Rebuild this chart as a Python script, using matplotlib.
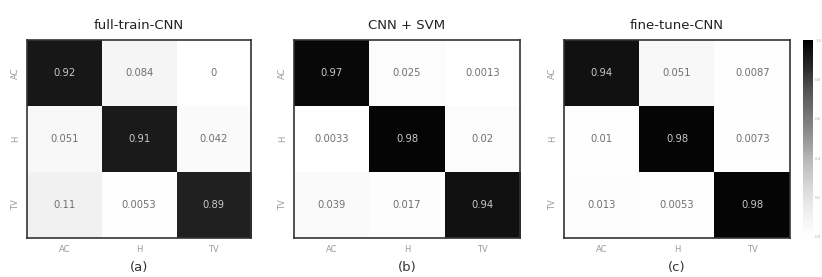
import numpy as np
import matplotlib
matplotlib.use("Agg")
import matplotlib.pyplot as plt

classes = ["AC", "H", "TV"]
titles = ["full-train-CNN", "CNN + SVM", "fine-tune-CNN"]
captions = ["(a)", "(b)", "(c)"]

cm_full_train = [[0.92, 0.084, 0],
                 [0.051, 0.91, 0.042],
                 [0.11, 0.0053, 0.89]]
cm_cnn_svm = [[0.97, 0.025, 0.0013],
              [0.0033, 0.98, 0.02],
              [0.039, 0.017, 0.94]]
cm_fine_tune = [[0.94, 0.051, 0.0087],
                [0.01, 0.98, 0.0073],
                [0.013, 0.0053, 0.98]]
matrices = [cm_full_train, cm_cnn_svm, cm_fine_tune]
cbar_ticks = [0.0, 0.2, 0.4, 0.6, 0.8, 1.0]

W, H = 822, 277
fig = plt.figure(figsize=(W / 100, H / 100), dpi=100)
fig.patch.set_facecolor("white")

# panel boxes in pixels: left, top, right, bottom
boxes = [(27, 40, 251, 238), (294, 40, 520, 238), (564, 40, 790, 238)]

im = None
for cm, title, cap, (x0, y0, x1, y1) in zip(matrices, titles, captions, boxes):
    ax = fig.add_axes([x0 / W, 1 - y1 / H, (x1 - x0) / W, (y1 - y0) / H])
    data = np.array(cm)
    im = ax.imshow(data, cmap="Greys", vmin=0, vmax=1, aspect="auto", interpolation="nearest")
    for i in range(3):
        for j in range(3):
            v = data[i, j]
            ax.text(j, i, f"{v:g}", ha="center", va="center", fontsize=7.2,
                    color="#c8c8c8" if v > 0.5 else "#707070")
    ax.set_xticks(range(3))
    ax.set_yticks(range(3))
    ax.set_xticklabels(classes, fontsize=6, color="#9a9a9a")
    ax.set_yticklabels(classes, fontsize=6, color="#9a9a9a", rotation=90, va="center")
    ax.tick_params(length=0, pad=5)
    for s in ax.spines.values():
        s.set_color("#333333")
        s.set_linewidth(1.2)
    ax.set_title(title, fontsize=9.5, color="#222222", pad=8)
    fig.text((x0 + x1) / 2 / W, 1 - 268 / H, cap, ha="center", va="center",
             fontsize=9.5, color="#333333")

cax = fig.add_axes([803 / W, 1 - 237 / H, 10 / W, 197 / H])
cb = fig.colorbar(im, cax=cax, ticks=cbar_ticks)
cb.outline.set_visible(False)
# labels squeezed into the narrow strip at the right edge
cb.ax.tick_params(labelsize=2.8, length=0, pad=1.5, colors="#aaaaaa")

fig.savefig("out.png", dpi=100, facecolor="white")
